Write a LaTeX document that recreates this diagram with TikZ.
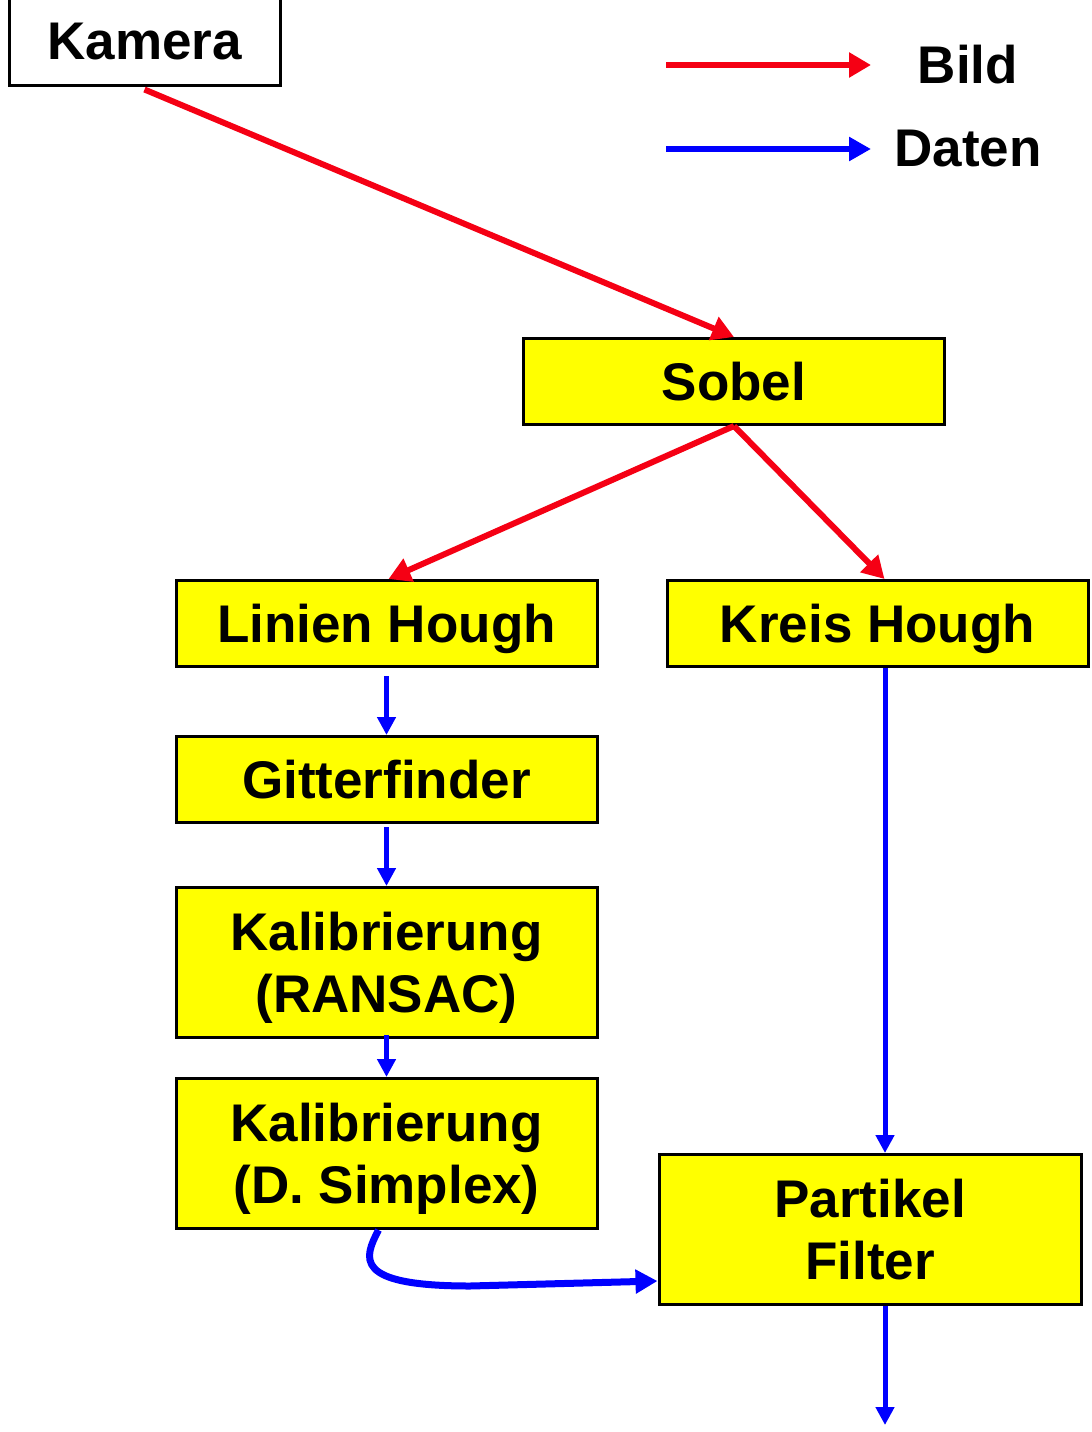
\documentclass[tikz,border=0pt]{standalone}
\usepackage{fontspec}
\setmainfont{Liberation Sans}
\usetikzlibrary{arrows.meta,calc}
\definecolor{bildred}{RGB}{245,0,20}
\definecolor{datblue}{RGB}{0,0,255}
\definecolor{boxyellow}{RGB}{255,255,0}
\begin{document}
\begin{tikzpicture}[x=1pt,y=-1pt,
  box/.style={draw=black,line width=3pt,fill=boxyellow,inner sep=0pt,text depth=0pt,
    align=center,font=\bfseries\fontsize{53}{62}\selectfont},
  lbl/.style={inner sep=0pt,text depth=0pt,font=\bfseries\fontsize{53}{62}\selectfont},
  bild/.style={draw=bildred,line width=6pt,-{Triangle[length=22pt,width=24pt]}},
  dat/.style={draw=datblue,line width=5pt,-{Triangle[length=18pt,width=18pt]}},
  datthick/.style={draw=datblue,line width=7pt,-{Triangle[length=22pt,width=23pt]}}]
\useasboundingbox[fill=white] (0,0) rectangle (1092,1432);
\node[box,fill=white,minimum width=271pt,minimum height=88pt] (kam) at (144.5,41) {Kamera};
\node[box,minimum width=421pt,minimum height=86pt] (sob) at (734,381.5) {Sobel};
\node[box,minimum width=421pt,minimum height=86pt] (lh) at (386.5,623.5) {Linien Hough};
\node[box,minimum width=421pt,minimum height=86pt] (kh) at (877.5,623.5) {Kreis Hough};
\node[box,minimum width=421pt,minimum height=86pt] (gf) at (386.5,779.5) {Gitterfinder};
\node[box,minimum width=421pt,minimum height=150pt] (k1) at (386.5,962.5) {Kalibrierung\\(RANSAC)};
\node[box,minimum width=421pt,minimum height=150pt] (k2) at (386.5,1153.5) {Kalibrierung\\(D. Simplex)};
\node[box,minimum width=422pt,minimum height=150pt] (pf) at (870,1229.5) {Partikel\\Filter};
\node[lbl] (bildl) at (968,64) {Bild};
\node[lbl] (datl) at (968,148) {Daten};
\coordinate (b1) at (666,65);
\coordinate (b2) at (871,65);
\coordinate (d1) at (666,149);
\coordinate (d2) at (871,149);
\coordinate (endout) at (885,1425);
% legend
\draw[bild] (b1) -- (b2);
\draw[dat,line width=6pt,-{Triangle[length=22pt,width=23pt]}] (d1) -- (d2);
% image flow
\draw[bild] ([yshift=-3pt]kam.south) -- (sob.north);
\draw[bild] (sob.south) -- ([xshift=2pt]lh.north);
\draw[bild] (sob.south) -- ([xshift=7pt]kh.north);
% data flow
\draw[dat] ([yshift=-8pt]lh.south) -- (gf.north);
\draw[dat] ([yshift=-3pt]gf.south) -- (k1.north);
\draw[dat] ([yshift=4pt]k1.south) -- (k2.north);
\draw[dat] (kh.south -| endout) -- (pf.north -| endout);
\draw[dat] (pf.south -| endout) -- (endout);
\draw[datthick] ([xshift=-8pt]k2.south) .. controls (364,1258) and (352,1286) .. (470,1286) -- ($(pf.west)+(0,51.5)$);
\end{tikzpicture}
\end{document}
